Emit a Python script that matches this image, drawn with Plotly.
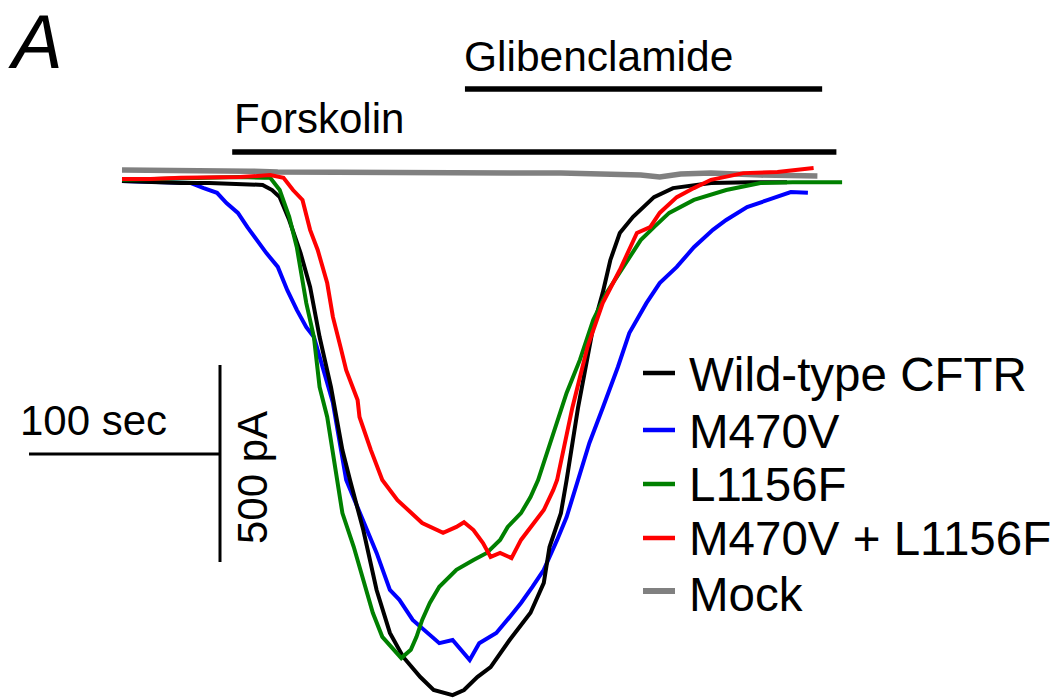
import plotly.graph_objects as go

# ---------------- data (time in s, current in pA) ----------------
wt_t = [0, 15, 31, 46, 62, 74, 79, 83, 88, 94, 99, 104, 110, 113, 116, 120, 127, 134, 141, 148, 157, 164,
        174, 180, 187, 194, 204, 215, 222, 225, 231, 234, 240, 248, 253, 257, 262, 269, 280, 290, 310, 331, 350]
wt_i = [0, -3, -5, -5, -8, -10, -23, -41, -99, -183, -269, -396, -523, -599, -683, -759, -886, -1038, -1147,
        -1208, -1259, -1292, -1305, -1292, -1259, -1234, -1165, -1096, -1020, -929, -843, -759, -576, -371,
        -284, -201, -132, -91, -41, -18, -5, -3, -3]

m470v_t = [0, 15, 29, 36, 43, 50, 55, 61, 66, 71, 76, 82, 87, 92, 97, 101, 106, 111, 118, 127, 134, 141, 146,
           153, 161, 167, 174, 182, 183, 188, 197, 204, 210, 216, 222, 229, 234, 240, 246, 253, 261, 267, 276,
           283, 292, 301, 311, 318, 329, 340, 352, 361]
m470v_i = [0, -3, -5, -5, -18, -30, -56, -81, -117, -150, -183, -218, -277, -327, -371, -396, -480, -563, -759,
           -860, -944, -1038, -1063, -1114, -1147, -1173, -1165, -1208, -1216, -1173, -1147, -1107, -1071,
           -1030, -987, -911, -853, -759, -665, -576, -472, -386, -310, -259, -218, -168, -124, -99, -66, -48,
           -28, -30]

l1156f_t = [0, 15, 31, 46, 62, 75, 78, 83, 88, 92, 97, 101, 104, 108, 113, 116, 122, 127, 132, 137, 145, 147,
            152, 155, 158, 162, 167, 176, 185, 192, 199, 203, 210, 215, 219, 234, 241, 248, 255, 264, 273, 280,
            288, 301, 318, 336, 353, 379]
l1156f_i = [3, 5, 8, 8, 10, 8, 8, -23, -91, -168, -310, -396, -523, -599, -759, -843, -929, -1013, -1096,
            -1157, -1198, -1211, -1190, -1157, -1114, -1071, -1030, -987, -962, -944, -911, -878, -843, -802,
            -759, -538, -454, -353, -284, -218, -150, -117, -81, -48, -23, -5, -3, -3]

double_t = [0, 15, 31, 46, 62, 78, 85, 90, 95, 99, 103, 108, 111, 115, 118, 124, 125, 131, 137, 145, 152, 158,
            169, 176, 180, 185, 190, 194, 199, 205, 210, 215, 222, 227, 229, 237, 245, 253, 262, 271, 278, 283,
            292, 301, 310, 327, 345, 364]
double_i = [5, 5, 8, 8, 10, 15, 8, -23, -48, -124, -175, -259, -345, -421, -480, -556, -599, -683, -759, -810,
            -843, -868, -893, -878, -866, -886, -919, -954, -944, -957, -911, -878, -835, -784, -759, -576,
            -421, -310, -226, -132, -117, -81, -41, -18, 3, 20, 23, 33]

mock_t = [0, 20, 46, 67, 82, 104, 125, 146, 173, 199, 231, 252, 273, 283, 294, 310, 336, 366]
mock_i = [28, 28, 28, 25, 23, 23, 20, 23, 20, 23, 20, 18, 15, 10, 18, 20, 15, 13]

series_names = ["Wild-type CFTR", "M470V", "L1156F", "M470V + L1156F", "Mock"]

# drug application periods (s)
forskolin_on, forskolin_off = 58, 376
glib_on, glib_off = 180.5, 368.5

# scale bars
scale_sec = 100
scale_pa = 500

# ---------------- figure ----------------
W, H = 1060, 699
PX_PER_S = 1.9
PX_PER_PA = 0.394
X0_PX, Y0_PX = 122, 181  # position of t=0, I=0

colors = ["#000000", "#0000ff", "#008000", "#ff0000", "#808080"]
widths = [4, 4, 4, 4, 5.5]
data = [(wt_t, wt_i), (m470v_t, m470v_i), (l1156f_t, l1156f_i), (double_t, double_i), (mock_t, mock_i)]

fig = go.Figure()
order = [4, 1, 0, 2, 3]
for k in order:
    t, i = data[k]
    fig.add_trace(go.Scatter(x=t, y=i, mode="lines", name=series_names[k],
                             line=dict(color=colors[k], width=widths[k]),
                             showlegend=False, hoverinfo="skip"))

FONT = "Liberation Sans, Arial, Helvetica, sans-serif"


def py2paper(py):
    return 1 - py / H


def px2paper(px):
    return px / W


shapes = []
# drug bars
shapes.append(dict(type="line", xref="x", yref="paper", x0=forskolin_on, x1=forskolin_off,
                   y0=py2paper(152), y1=py2paper(152), line=dict(color="black", width=5.5)))
shapes.append(dict(type="line", xref="x", yref="paper", x0=glib_on, x1=glib_off,
                   y0=py2paper(89), y1=py2paper(89), line=dict(color="black", width=5.5)))

# scale bars (in data units)
sb_x_start = (29 - X0_PX) / PX_PER_S
sb_y_h = (Y0_PX - 454) / PX_PER_PA
sb_x_v = (220 - X0_PX) / PX_PER_S
sb_y_top = (Y0_PX - 365) / PX_PER_PA
shapes.append(dict(type="line", xref="x", yref="y", x0=sb_x_start, x1=sb_x_start + scale_sec,
                   y0=sb_y_h, y1=sb_y_h, line=dict(color="black", width=3)))
shapes.append(dict(type="line", xref="x", yref="y", x0=sb_x_v, x1=sb_x_v,
                   y0=sb_y_top, y1=sb_y_top - scale_pa, line=dict(color="black", width=3)))

# legend keys
leg_y = [373, 430, 484, 538, 591]
for k in range(5):
    shapes.append(dict(type="line", xref="paper", yref="paper", x0=px2paper(643), x1=px2paper(675),
                       y0=py2paper(leg_y[k]), y1=py2paper(leg_y[k]),
                       line=dict(color=colors[k], width=4.5 if k < 4 else 6)))

annotations = []
leg_text_y = [374, 431, 484, 538, 594]
for k in range(5):
    annotations.append(dict(text=series_names[k], xref="paper", yref="paper", x=px2paper(687),
                            y=py2paper(leg_text_y[k]), xanchor="left", yanchor="middle", showarrow=False,
                            font=dict(family=FONT, size=47.5, color="black")))

annotations.append(dict(text="Forskolin", xref="paper", yref="paper", x=px2paper(232), y=py2paper(119),
                        xanchor="left", yanchor="middle", showarrow=False,
                        font=dict(family=FONT, size=42, color="black")))
annotations.append(dict(text="Glibenclamide", xref="paper", yref="paper", x=px2paper(462), y=py2paper(56),
                        xanchor="left", yanchor="middle", showarrow=False,
                        font=dict(family=FONT, size=42.5, color="black")))
annotations.append(dict(text="<i>A</i>", xref="paper", yref="paper", x=px2paper(6), y=py2paper(42),
                        xanchor="left", yanchor="middle", showarrow=False,
                        font=dict(family=FONT, size=76, color="black")))
annotations.append(dict(text="100 sec", xref="paper", yref="paper", x=px2paper(18), y=py2paper(420),
                        xanchor="left", yanchor="middle", showarrow=False,
                        font=dict(family=FONT, size=42, color="black")))
annotations.append(dict(text="500 pA", xref="paper", yref="paper", x=px2paper(252), y=py2paper(478),
                        xanchor="center", yanchor="middle", showarrow=False, textangle=-90,
                        font=dict(family=FONT, size=42, color="black")))

fig.update_layout(
    width=W, height=H,
    margin=dict(l=0, r=0, t=0, b=0),
    paper_bgcolor="white", plot_bgcolor="white",
    showlegend=False,
    shapes=shapes,
    annotations=annotations,
    xaxis=dict(visible=False, range=[-X0_PX / PX_PER_S, (W - X0_PX) / PX_PER_S], fixedrange=True),
    yaxis=dict(visible=False, range=[(Y0_PX - H) / PX_PER_PA, Y0_PX / PX_PER_PA], fixedrange=True),
)

fig.write_html("out.html", config={"displayModeBar": False})
